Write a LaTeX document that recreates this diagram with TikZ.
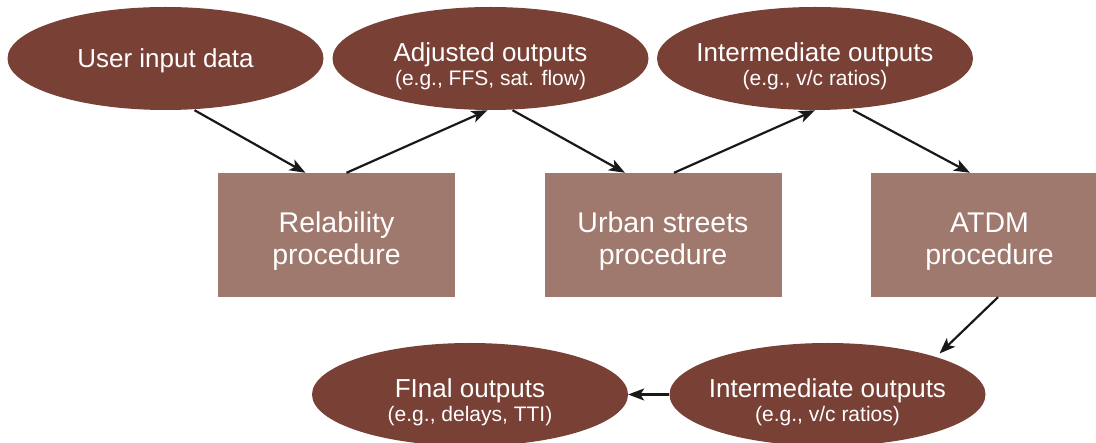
\documentclass[tikz,border=0pt]{standalone}
\usepackage{fontspec}
\setmainfont{Liberation Sans}
\usetikzlibrary{arrows.meta,shapes.geometric}
\definecolor{ovalfill}{RGB}{121,64,54}
\definecolor{boxfill}{RGB}{159,120,110}
\begin{document}
\begin{tikzpicture}[x=1pt,y=-1pt,
  oval/.style={ellipse, fill=ovalfill, text=white, minimum width=316pt,
    minimum height=103pt, inner xsep=-20pt, inner ysep=0pt, align=center,
    font=\fontsize{26}{24}\selectfont},
  procbox/.style={rectangle, fill=boxfill, text=white, minimum width=237pt,
    minimum height=124pt, inner sep=0pt, align=center,
    font=\fontsize{28.5}{32}\selectfont},
  arr/.style={draw=black!90, line width=2.2pt,
    -{Stealth[length=16pt,width=12pt,inset=4pt]}}]
  \useasboundingbox (0,0) rectangle (1096,443);

  % top row of data ovals
  \node[oval] (user) at (165.5,58.5) {\rule{0pt}{23pt}User input data};
  \node[oval] (adj) at (490.5,58.5)
    {\rule{0pt}{35pt}Adjusted outputs\\{\fontsize{21}{21}\selectfont (e.g., FFS, sat. flow)}};
  \node[oval] (inter) at (815,58.5)
    {\rule{0pt}{35pt}Intermediate outputs\\{\fontsize{21}{21}\selectfont (e.g., v/c ratios)}};

  % procedure boxes
  \node[procbox] (rel) at (336.5,235) {\rule{0pt}{32pt}Relability\\procedure};
  \node[procbox] (urban) at (663,235) {\rule{0pt}{32pt}Urban streets\\procedure};
  \node[procbox] (atdm) at (989.5,235) {\rule{0pt}{32pt}ATDM\\procedure};

  % bottom row of data ovals
  \node[oval] (binter) at (827.5,394.5)
    {\rule{0pt}{35pt}Intermediate outputs\\{\fontsize{21}{21}\selectfont (e.g., v/c ratios)}};
  \node[oval] (final) at (470,394.5)
    {\rule{0pt}{35pt}FInal outputs\\{\fontsize{21}{21}\selectfont (e.g., delays, TTI)}};

  % flow connectors
  \draw[arr] ([xshift=29pt]user.south) -- ([xshift=-31pt]rel.north);
  \draw[arr] ([xshift=10pt]rel.north) -- ([xshift=-3pt]adj.south);
  \draw[arr] ([xshift=22pt]adj.south) -- ([xshift=-38pt]urban.north);
  \draw[arr] ([xshift=11pt]urban.north) -- (inter.south);
  \draw[arr] ([xshift=38pt]inter.south) -- ([xshift=-19.5pt]atdm.north);
  \draw[arr] ([xshift=8.5pt]atdm.south) -- ([shift={(112,-41)}]binter.center);
  \draw[arr] (binter.west) -- (final.east);
\end{tikzpicture}
\end{document}
